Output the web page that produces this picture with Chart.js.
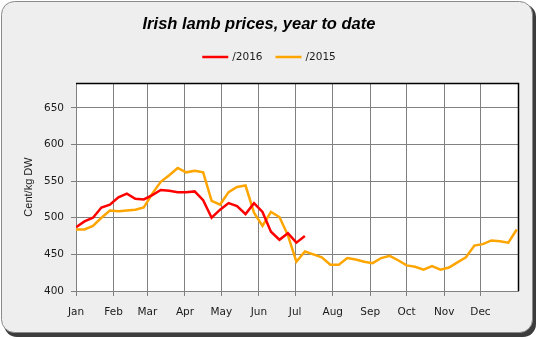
<!DOCTYPE html>
<html>
<head>
<meta charset="utf-8">
<title>Irish lamb prices</title>
<script src="https://cdn.jsdelivr.net/npm/chart.js@4.4.1/dist/chart.umd.min.js"></script>
<style>
    html, body { margin: 0; padding: 0; background: #ffffff; }
    #chartCanvas { display: block; }
</style>
</head>
<body>
<canvas id="chartCanvas" width="538" height="339"></canvas>
<script>
// week of the year, one point per week
const weekNo = [1, 2, 3, 4, 5, 6, 7, 8, 9, 10, 11, 12, 13, 14, 15, 16, 17, 18, 19, 20,
    21, 22, 23, 24, 25, 26, 27, 28, 29, 30, 31, 32, 33, 34, 35, 36, 37, 38, 39, 40,
    41, 42, 43, 44, 45, 46, 47, 48, 49, 50, 51, 52, 53]
const monthNames = ['Jan', 'Feb', 'Mar', 'Apr', 'May', 'Jun', 'Jul', 'Aug', 'Sep', 'Oct', 'Nov', 'Dec']
const monthStartDay = [0, 31, 59, 90, 120, 151, 181, 212, 243, 273, 304, 334]
const yTicks = [400, 450, 500, 550, 600, 650]

const prices2016 = [487, 495, 500, 514, 518, 528, 533, 526, 525, 531, 538, 537, 535, 535,
    536, 524, 500, 511, 520, 516, 505, 520, 508, 481, 470, 479, 466, 475]
const prices2015 = [484, 484, 489, 500, 510, 509, 510, 511, 514, 533, 549, 558, 568, 562,
    564, 562, 523, 518, 535, 542, 544, 507, 489, 508, 501, 476, 440, 454, 450, 446,
    436, 436, 445, 443, 440, 438, 445, 448, 442, 435, 433, 429, 434, 429, 432, 439,
    446, 462, 464, 469, 468, 466, 484]

const smallFont = "'DejaVu Sans', sans-serif"

// rounded grey panel behind everything, white plot area
const framePlugin = {
    id: 'frame',
    beforeDraw: (chart) => {
        const ctx = chart.ctx
        const area = chart.chartArea
        ctx.save()
        ctx.fillStyle = '#3c3c3c'
        ctx.beginPath()
        ctx.roundRect(4, 4, 532, 333, 13)
        ctx.fill()
        ctx.fillStyle = '#eeeeee'
        ctx.strokeStyle = '#8a8a8a'
        ctx.lineWidth = 1
        ctx.beginPath()
        ctx.roundRect(1.5, 1.5, 531, 331, 13)
        ctx.fill()
        ctx.stroke()
        ctx.fillStyle = '#ffffff'
        ctx.fillRect(area.left, area.top, area.right - area.left, area.bottom - area.top)
        ctx.restore()
    },
    beforeDatasetsDraw: (chart) => {
        const ctx = chart.ctx
        const area = chart.chartArea
        ctx.save()
        ctx.strokeStyle = '#000000'
        ctx.lineWidth = 1.5
        ctx.beginPath()
        ctx.moveTo(area.left, area.top + 0.5)
        ctx.lineTo(area.right + 0.5, area.top + 0.5)
        ctx.lineTo(area.right + 0.5, area.bottom)
        ctx.stroke()
        ctx.restore()
    }
}

// legend drawn as short line samples under the title
const lineLegendPlugin = {
    id: 'lineLegend',
    afterDraw: (chart) => {
        const ctx = chart.ctx
        const sets = chart.data.datasets
        const lineLen = 26
        const gap = 4
        const spacing = 13
        const y = 57
        ctx.save()
        ctx.font = '10.5px ' + smallFont
        ctx.textBaseline = 'middle'
        const widths = sets.map(ds => lineLen + gap + ctx.measureText(ds.label).width)
        const total = widths.reduce((a, b) => a + b, 0) + spacing * (sets.length - 1)
        let x = chart.width / 2 - total / 2
        sets.forEach((ds, i) => {
            ctx.strokeStyle = ds.borderColor
            ctx.lineWidth = 2.5
            ctx.beginPath()
            ctx.moveTo(x, y)
            ctx.lineTo(x + lineLen, y)
            ctx.stroke()
            ctx.fillStyle = '#1a1a1a'
            ctx.fillText(ds.label, x + lineLen + gap, y)
            x += widths[i] + spacing
        })
        ctx.restore()
    }
}

const ctx = document.getElementById('chartCanvas').getContext('2d')
const myChart = new Chart(ctx, {
    type: 'line',
    data: {
        labels: weekNo,
        datasets: [{
            label: '/2016',
            data: prices2016,
            borderColor: '#ff0000',
            borderWidth: 2.5,
            pointRadius: 0,
            tension: 0
        }, {
            label: '/2015',
            data: prices2015,
            borderColor: '#ffa500',
            borderWidth: 2.5,
            pointRadius: 0,
            tension: 0
        }]
    },
    options: {
        responsive: false,
        animation: false,
        devicePixelRatio: 1,
        layout: { padding: { left: 0, right: 20, top: 0, bottom: 0 } },
        plugins: {
            legend: { display: false },
            tooltip: { enabled: false },
            title: {
                display: true,
                text: 'Irish lamb prices, year to date',
                color: '#000000',
                font: { family: "'Liberation Sans', sans-serif", size: 16.5, style: 'italic', weight: 'bold' },
                padding: { top: 15, bottom: 48.2 }
            }
        },
        scales: {
            x: {
                type: 'linear',
                min: 1,
                max: 1 + 365 / 7,
                afterBuildTicks: (scale) => {
                    scale.ticks = monthStartDay.map(d => ({ value: 1 + d / 7 }))
                },
                afterFit: (scale) => { scale.height = 48 },
                border: { color: '#808080', width: 1 },
                grid: { color: '#808080', lineWidth: 1, tickLength: 5 },
                ticks: {
                    autoSkip: false,
                    maxRotation: 0,
                    padding: 10,
                    color: '#1a1a1a',
                    font: { family: smallFont, size: 10.5 },
                    callback: (value, index) => monthNames[index]
                }
            },
            y: {
                min: 400,
                max: 684,
                afterBuildTicks: (scale) => {
                    scale.ticks = yTicks.map(v => ({ value: v }))
                },
                afterFit: (scale) => { scale.width = 76 },
                border: { color: '#808080', width: 1 },
                grid: { color: '#808080', lineWidth: 1, tickLength: 5 },
                ticks: {
                    padding: 7,
                    color: '#1a1a1a',
                    font: { family: smallFont, size: 10.5 }
                },
                title: {
                    display: true,
                    text: 'Cent/kg DW',
                    color: '#1a1a1a',
                    font: { family: "'Liberation Sans Narrow', 'Liberation Sans', sans-serif", size: 11 },
                    padding: { top: 22, bottom: 0 }
                }
            }
        }
    },
    plugins: [framePlugin, lineLegendPlugin]
})
</script>
</body>
</html>
